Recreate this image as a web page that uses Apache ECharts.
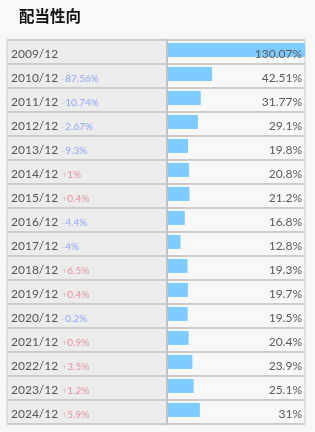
<!DOCTYPE html>
<html>
<head>
<meta charset="utf-8">
<script src="https://cdn.jsdelivr.net/npm/echarts@6/dist/echarts.min.js"></script>
<style>
  html, body { margin: 0; padding: 0; background: #f8f8f8; }
  #chart { width: 315px; height: 432px; }
</style>
</head>
<body>
<div id="chart"></div>
<script>
// 配当性向 — payout ratio by fiscal year, with year-on-year change (pt)

const years = ['2009/12', '2010/12', '2011/12', '2012/12', '2013/12', '2014/12', '2015/12', '2016/12',
  '2017/12', '2018/12', '2019/12', '2020/12', '2021/12', '2022/12', '2023/12', '2024/12'];
const payout = [130.07, 42.51, 31.77, 29.1, 19.8, 20.8, 21.2, 16.8, 12.8, 19.3, 19.7, 19.5, 20.4, 23.9, 25.1, 31];
const change = [null, -87.56, -10.74, -2.67, -9.3, 1, 0.4, -4.4, -4, 6.5, 0.4, -0.2, 0.9, 3.5, 1.2, 5.9];

const BAR = '#7ecbff';
const LINE = '#cccccc';
const FONT = 'Lato';

const chart = echarts.init(document.getElementById('chart'), null, { renderer: 'canvas' });

function yearLabel(value, i) {
  const c = change[i];
  if (c == null) return `{d|${value}}`;
  const cls = c < 0 ? 'neg' : 'pos';
  const sign = c < 0 ? '-' : '+';
  return `{d|${value}} {${cls}s|${sign}}{${cls}|${Math.abs(c)}%}`;
}

chart.setOption({
  animation: false,
  backgroundColor: '#f8f8f8',
  title: {
    text: '配当性向', left: 14, top: 3,
    textStyle: { fontFamily: 'Noto Sans CJK JP', fontSize: 15.5, fontWeight: 'bold', color: '#111' },
  },
  grid: [
    { left: 7, width: 160, top: 40, height: 384, show: true, backgroundColor: '#ececec', borderColor: LINE, borderWidth: 1 },
    { left: 167, width: 138, top: 40, height: 384, show: true, backgroundColor: '#f8f8f8', borderColor: LINE, borderWidth: 1 },
  ],
  xAxis: [
    { gridIndex: 0, type: 'value', show: false, min: 0, max: 1 },
    { gridIndex: 1, type: 'value', show: false, min: 0, max: 130.07 },
  ],
  yAxis: [
    {
      gridIndex: 0, type: 'category', data: years, inverse: true,
      axisLine: { show: false }, axisTick: { show: false },
      splitLine: { show: true, interval: 0, lineStyle: { color: LINE, width: 2 } },
      axisLabel: {
        inside: true, margin: 4, interval: 0, formatter: yearLabel,
        padding: [5, 0, 0, 0],
        rich: {
          d: { fontFamily: FONT, fontSize: 12, color: '#555' },
          neg: { fontFamily: FONT, fontSize: 10, color: '#8fa6f2' },
          negs: { fontFamily: FONT, fontSize: 10, color: '#bcc8f5' },
          pos: { fontFamily: FONT, fontSize: 10, color: '#e0909b' },
          poss: { fontFamily: FONT, fontSize: 10, color: '#ecb8bf' },
        },
      },
    },
    {
      gridIndex: 1, type: 'category', data: years, inverse: true,
      axisLine: { show: true, lineStyle: { color: '#c2c2c2', width: 2 } },
      axisTick: { show: false }, axisLabel: { show: false },
      splitLine: { show: true, interval: 0, lineStyle: { color: LINE, width: 2 } },
    },
  ],
  series: [{
    type: 'custom',
    xAxisIndex: 1, yAxisIndex: 1,
    encode: { x: 0, y: 1 },
    data: payout.map((v, i) => [v, i]),
    z: 3,
    renderItem(params, api) {
      const idx = api.value(1);
      const start = api.coord([0, idx]);
      const end = api.coord([api.value(0), idx]);
      const band = api.size([0, 1])[1];
      const cs = params.coordSys;
      return {
        type: 'group',
        children: [
          {
            type: 'rect',
            shape: { x: start[0] + 1, y: start[1] - band * 0.375, width: end[0] - start[0] - 1, height: band * 0.58 },
            style: { fill: BAR },
          },
          {
            type: 'text',
            style: {
              text: api.value(0) + '%', x: cs.x + cs.width - 3, y: start[1] + 2,
              align: 'right', verticalAlign: 'middle',
              fontFamily: FONT, fontSize: 12, fill: '#5a5a5a',
            },
          },
        ],
      };
    },
  }],
});
</script>
</body>
</html>
